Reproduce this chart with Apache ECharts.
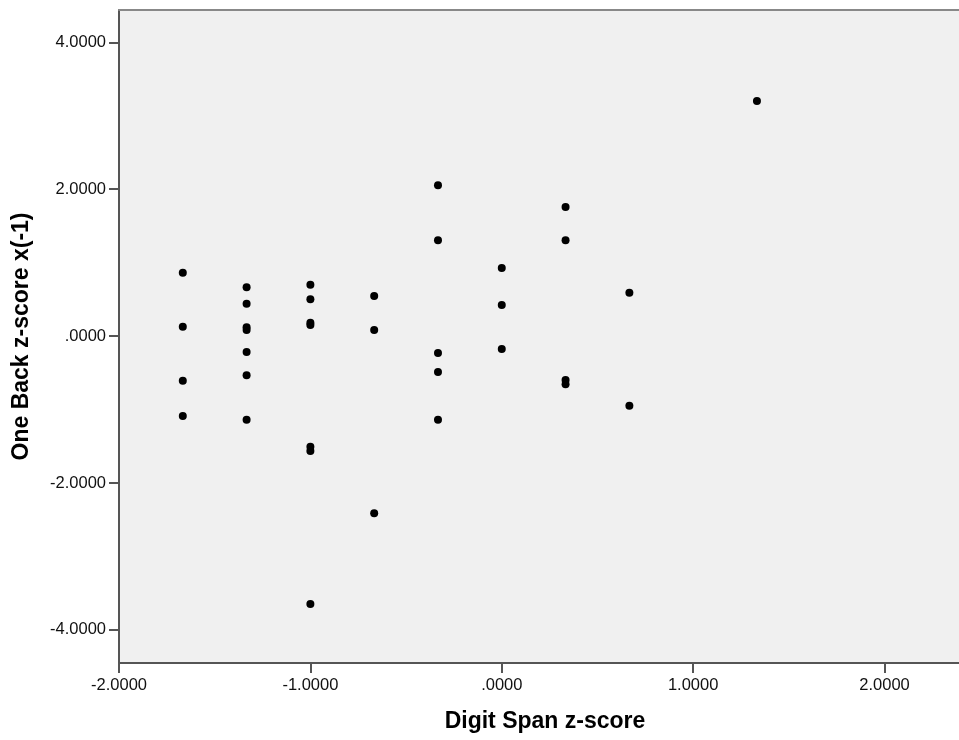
<!DOCTYPE html>
<html>
<head>
<meta charset="utf-8">
<script src="https://cdn.jsdelivr.net/npm/echarts@6/dist/echarts.min.js"></script>
<style>
html,body{margin:0;padding:0;background:#fff;}
#chart{width:959px;height:740px;}
</style>
</head>
<body>
<div id="chart"></div>
<script>
// Digit Span z-score (x) values per point
const digitSpan = [
  -1.6667,-1.6667,-1.6667,-1.6667,
  -1.3333,-1.3333,-1.3333,-1.3333,-1.3333,-1.3333,-1.3333,
  -1.0,-1.0,-1.0,-1.0,-1.0,-1.0,-1.0,
  -0.6667,-0.6667,-0.6667,
  -0.3333,-0.3333,-0.3333,-0.3333,-0.3333,
  0,0,0,
  0.3333,0.3333,0.3333,0.3333,
  0.6667,0.6667,
  1.3333
];
// One Back z-score x(-1) values per point
const oneBack = [
  0.864,0.129,-0.606,-1.087,
  0.665,0.442,0.120,0.084,-0.216,-0.533,-1.137,
  0.700,0.502,0.183,0.152,-1.505,-1.563,-3.646,
  0.547,0.084,-2.411,
  2.053,1.305,-0.229,-0.488,-1.137,
  0.928,0.424,-0.175,
  1.758,1.305,-0.597,-0.655,
  0.592,-0.947,
  3.201
];
const xTicks = [-2,-1,0,1,2];
const yTicks = [-4,-2,0,2,4];

const fmt = v => {
  if (Math.abs(v) < 1e-9) return '.0000';
  return v.toFixed(4);
};

const points = digitSpan.map((x,i)=>[x, oneBack[i]]);
const FONT = '"Liberation Sans", Arial, sans-serif';
const X_MIN = -2, X_MAX = 2.389, Y_MIN = -4.45, Y_MAX = 4.44;

const chart = echarts.init(document.getElementById('chart'), null, {renderer:'canvas'});
chart.setOption({
  animation:false,
  backgroundColor:'#ffffff',
  grid:{
    left:119, right:0, top:10, bottom:77,
    show:true, backgroundColor:'#f0f0f0', borderWidth:0
  },
  xAxis:[{
    type:'value', min:X_MIN, max:X_MAX, position:'bottom',
    name:'Digit Span z-score', nameLocation:'middle', nameGap:47,
    nameTextStyle:{fontFamily:FONT, fontSize:23, fontWeight:'bold', color:'#000', padding:[0,0,0,12]},
    axisLine:{show:true, onZero:false, lineStyle:{color:'#555', width:2}},
    axisTick:{show:true, customValues:xTicks, length:10, lineStyle:{color:'#555', width:2}},
    axisLabel:{customValues:xTicks, formatter:fmt, fontFamily:FONT, fontSize:16.5, color:'#111', margin:14},
    splitLine:{show:false}
  },{
    type:'value', min:X_MIN, max:X_MAX, position:'top',
    axisLine:{show:true, onZero:false, lineStyle:{color:'#888', width:2}},
    axisTick:{show:false}, axisLabel:{show:false}, splitLine:{show:false}
  }],
  yAxis:{
    type:'value', min:Y_MIN, max:Y_MAX,
    name:'One Back z-score x(-1)', nameLocation:'middle', nameGap:86, nameRotate:90,
    nameTextStyle:{fontFamily:FONT, fontSize:23, fontWeight:'bold', color:'#000'},
    axisLine:{show:true, onZero:false, lineStyle:{color:'#555', width:2}},
    axisTick:{show:true, customValues:yTicks, length:10, lineStyle:{color:'#555', width:2}},
    axisLabel:{customValues:yTicks, formatter:fmt, fontFamily:FONT, fontSize:16.5, color:'#111', margin:13},
    splitLine:{show:false}
  },
  series:[{
    type:'scatter',
    xAxisIndex:0,
    data:points,
    symbol:'circle',
    symbolSize:8,
    itemStyle:{color:'#000', opacity:1},
    silent:true
  }]
});
</script>
</body>
</html>
